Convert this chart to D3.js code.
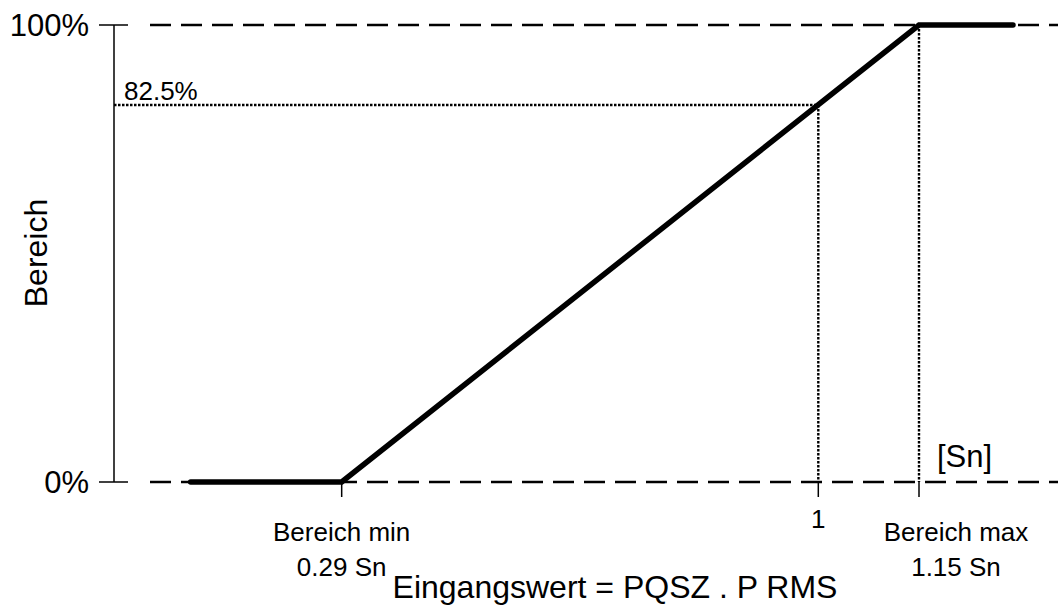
<!DOCTYPE html>
<html>
<head>
<meta charset="utf-8">
<script src="https://cdn.jsdelivr.net/npm/d3@7"></script>
<style>
	body { margin: 0; background: #fff; }
	text { font-family: "Liberation Sans", Arial, sans-serif; fill: #000; }
</style>
</head>
<body>
<svg id="chart" width="1058" height="605"></svg>
<script>
// data
var curveX = [0.065, 0.29, 1.15, 1.29];
var curveY = [0, 0, 100, 100];
var yTickVals = [0, 100];
var yTickLabels = ["0%", "100%"];
var xTickVals = [0.29, 1, 1.15];
var xTickLabels = [["Bereich min", "0.29 Sn"], ["1"], ["Bereich max", "1.15 Sn"]];
var markX = [1, 1.15];
var markY = 82.5;
var markLabel = "82.5%";
var guideRange = [0, 1.36];
var unitLabel = "[Sn]";
var xTitle = "Eingangswert = PQSZ . P RMS";
var yTitle = "Bereich";

var svg = d3.select('#chart');

var x = d3.scaleLinear().domain([0, 1.15]).range([147, 919]);
var y = d3.scaleLinear().domain([0, 100]).range([482, 25]);
var axisX = 114;

function label(px, py, txt, size, anchor){
	return svg.append('text')
	.attr('x', px)
	.attr('y', py)
	.attr('text-anchor', anchor || 'start')
	.attr('font-size', size)
	.text(txt);
}

//dashed guide lines at 0% and 100%
svg.append('g')
.selectAll('line')
.data(yTickVals)
.enter()
.append('line')
.attr('x1', x(guideRange[0]) + 3)
.attr('x2', x(guideRange[1]))
.attr('y1', function(d){ return y(d); })
.attr('y2', function(d){ return y(d); })
.attr('stroke', '#000')
.attr('stroke-width', 2.6)
.attr('stroke-dasharray', '21,10');

//dotted helper lines
var dotted = svg.append('g')
.attr('stroke', '#000')
.attr('stroke-width', 2.4)
.attr('stroke-dasharray', '2.5,1.5');

dotted.append('line')
.attr('x1', axisX).attr('x2', x(markX[0]))
.attr('y1', y(markY)).attr('y2', y(markY));

dotted.append('line')
.attr('x1', x(markX[0])).attr('x2', x(markX[0]))
.attr('y1', y(markY)).attr('y2', y(0));

dotted.append('line')
.attr('x1', x(markX[1])).attr('x2', x(markX[1]))
.attr('y1', y(100)).attr('y2', y(0));

//y axis
svg.append('line')
.attr('x1', axisX).attr('x2', axisX)
.attr('y1', y(100)).attr('y2', y(0))
.attr('stroke', '#000').attr('stroke-width', 1.5);

svg.append('g')
.selectAll('line')
.data(yTickVals)
.enter()
.append('line')
.attr('x1', axisX - 15).attr('x2', axisX + 14)
.attr('y1', function(d){ return y(d); })
.attr('y2', function(d){ return y(d); })
.attr('stroke', '#000').attr('stroke-width', 1.5);

yTickLabels.forEach(function(t, i){
	label(axisX - 25, y(yTickVals[i]) + 11, t, 31, 'end');
});

//x ticks
svg.append('g')
.selectAll('line')
.data(xTickVals)
.enter()
.append('line')
.attr('x1', function(d){ return x(d); })
.attr('x2', function(d){ return x(d); })
.attr('y1', y(0)).attr('y2', y(0) + 15)
.attr('stroke', '#000').attr('stroke-width', 1.5);

xTickLabels.forEach(function(lines, i){
	var px = x(xTickVals[i]);
	if(i == 2){ px += 37; }
	if(lines.length == 1){
		label(px, 528, lines[0], 26, 'middle');
	} else {
		label(px, 541, lines[0], 26, 'middle');
		label(px, 576, lines[1], 26, 'middle');
	}
});

//main curve
var line = d3.line()
.x(function(d){ return x(d[0]); })
.y(function(d){ return y(d[1]); });

svg.append('path')
.datum(d3.zip(curveX, curveY))
.attr('d', line)
.attr('fill', 'none')
.attr('stroke', '#000')
.attr('stroke-width', 5.5)
.attr('stroke-linecap', 'round');

//texts
label(124, y(markY) - 5, markLabel, 26, 'start');
label(937, 467, unitLabel, 31, 'start');
label(615, 598, xTitle, 32, 'middle');

svg.append('text')
.attr('transform', 'translate(47,253) rotate(-90)')
.attr('text-anchor', 'middle')
.attr('font-size', 32)
.text(yTitle);
</script>
</body>
</html>
